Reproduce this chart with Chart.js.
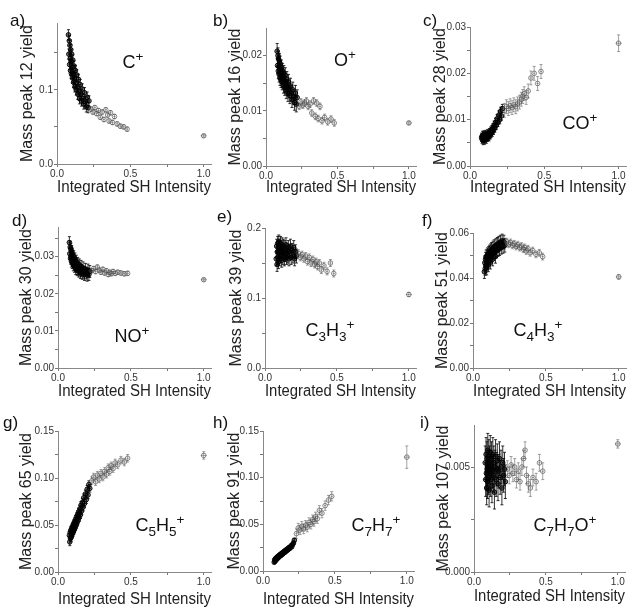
<!DOCTYPE html>
<html>
<head>
<meta charset="utf-8">
<script src="https://cdn.jsdelivr.net/npm/chart.js@4.4.0/dist/chart.umd.min.js"></script>
<style>
  body { margin: 0; background: #fff; }
  #fig { position: relative; width: 631px; height: 608px; overflow: hidden; font-family: "Liberation Sans", Arial, sans-serif; }
  #fig canvas { position: absolute; }
  .tag { position: absolute; font-size: 17px; color: #111; line-height: 1; white-space: nowrap; }
  .ion { position: absolute; font-size: 18px; color: #111; line-height: 1; white-space: nowrap; transform: translate(-50%, -50%); }
  .ion sub { font-size: 0.75em; vertical-align: -0.35em; line-height: 0; }
  .ion sup { font-size: 0.75em; vertical-align: 0.55em; line-height: 0; }
</style>
</head>
<body>
<div id="fig"></div>
<script>
// integrated SH intensity of each shot (shared by all nine panels)
const shgIntensity = [
  0.078, 0.081, 0.084, 0.086, 0.088, 0.090, 0.092, 0.094, 0.096, 0.098,
  0.100, 0.103, 0.105, 0.108, 0.110, 0.113, 0.116, 0.119, 0.122, 0.125,
  0.128, 0.131, 0.135, 0.138, 0.142, 0.146, 0.150, 0.154, 0.158, 0.162,
  0.167, 0.172, 0.177, 0.182, 0.188, 0.194, 0.200, 0.206, 0.212, 0.218,
  0.232, 0.245, 0.258, 0.270, 0.283, 0.295, 0.308, 0.320, 0.333, 0.345,
  0.355, 0.365, 0.378, 0.392, 0.410, 0.432, 0.455, 0.478,
  1.0
];

const peak12 = [
  0.174, 0.148, 0.166, 0.134, 0.160, 0.142, 0.126, 0.154, 0.138, 0.122,
  0.148, 0.130, 0.116, 0.140, 0.122, 0.110, 0.132, 0.116, 0.104, 0.126,
  0.110, 0.100, 0.120, 0.104, 0.094, 0.114, 0.098, 0.088, 0.107, 0.094,
  0.085, 0.101, 0.088, 0.081, 0.096, 0.084, 0.077, 0.090, 0.076, 0.085,
  0.074, 0.070, 0.076, 0.068, 0.072, 0.063, 0.070, 0.060, 0.073, 0.066,
  0.058, 0.069, 0.056, 0.064, 0.054, 0.051, 0.050, 0.047,
  0.038
];
const peak16 = [
  0.0208, 0.0182, 0.0200, 0.0172, 0.0194, 0.0180, 0.0166, 0.0190, 0.0176, 0.0160,
  0.0185, 0.0170, 0.0156, 0.0178, 0.0164, 0.0152, 0.0172, 0.0158, 0.0146, 0.0168,
  0.0154, 0.0142, 0.0164, 0.0148, 0.0136, 0.0157, 0.0143, 0.0131, 0.0152, 0.0138,
  0.0127, 0.0145, 0.0132, 0.0120, 0.0138, 0.0125, 0.0115, 0.0132, 0.0112, 0.0124,
  0.0108, 0.0116, 0.0110, 0.0114, 0.0118, 0.0108, 0.0112, 0.0096, 0.0118, 0.0090,
  0.0114, 0.0086, 0.0108, 0.0082, 0.0088, 0.0080, 0.0085, 0.0078,
  0.0078
];
const peak28 = [
  0.0062, 0.0058, 0.0066, 0.0060, 0.0055, 0.0064, 0.0059, 0.0067, 0.0061, 0.0056,
  0.0065, 0.0060, 0.0068, 0.0062, 0.0058, 0.0066, 0.0062, 0.0070, 0.0064, 0.0068,
  0.0063, 0.0072, 0.0067, 0.0075, 0.0070, 0.0078, 0.0073, 0.0082, 0.0077, 0.0088,
  0.0082, 0.0094, 0.0088, 0.0102, 0.0094, 0.0110, 0.0100, 0.0118, 0.0108, 0.0124,
  0.0120, 0.0128, 0.0124, 0.0130, 0.0126, 0.0132, 0.0128, 0.0134, 0.0138, 0.0144,
  0.0150, 0.0156, 0.0148, 0.0162, 0.0190, 0.0200, 0.0178, 0.0204,
  0.0265
];
const peak30 = [
  0.0338, 0.0308, 0.0326, 0.0296, 0.0320, 0.0302, 0.0288, 0.0314, 0.0296, 0.0284,
  0.0307, 0.0290, 0.0278, 0.0300, 0.0284, 0.0274, 0.0294, 0.0278, 0.0268, 0.0288,
  0.0274, 0.0265, 0.0282, 0.0268, 0.0261, 0.0278, 0.0264, 0.0257, 0.0274, 0.0262,
  0.0255, 0.0270, 0.0258, 0.0252, 0.0266, 0.0256, 0.0250, 0.0264, 0.0252, 0.0260,
  0.0262, 0.0268, 0.0260, 0.0272, 0.0264, 0.0258, 0.0266, 0.0256, 0.0262, 0.0252,
  0.0258, 0.0254, 0.0260, 0.0255, 0.0258, 0.0256, 0.0254, 0.0255,
  0.0238
];
const peak39 = [
  0.156, 0.174, 0.148, 0.166, 0.178, 0.158, 0.172, 0.152, 0.180, 0.164,
  0.174, 0.156, 0.168, 0.178, 0.160, 0.172, 0.154, 0.176, 0.165, 0.158,
  0.174, 0.166, 0.156, 0.172, 0.162, 0.176, 0.158, 0.168, 0.160, 0.172,
  0.156, 0.166, 0.174, 0.158, 0.168, 0.160, 0.172, 0.156, 0.166, 0.160,
  0.164, 0.158, 0.162, 0.156, 0.160, 0.152, 0.158, 0.150, 0.155, 0.148,
  0.152, 0.145, 0.150, 0.140, 0.146, 0.138, 0.150, 0.135,
  0.105
];
const peak51 = [
  0.0428, 0.0468, 0.0442, 0.0484, 0.0455, 0.0494, 0.0468, 0.0444, 0.0498, 0.0472,
  0.0504, 0.0480, 0.0458, 0.0510, 0.0486, 0.0516, 0.0492, 0.0470, 0.0522, 0.0498,
  0.0528, 0.0504, 0.0484, 0.0534, 0.0510, 0.0540, 0.0516, 0.0496, 0.0545, 0.0520,
  0.0550, 0.0526, 0.0555, 0.0530, 0.0560, 0.0536, 0.0565, 0.0540, 0.0560, 0.0545,
  0.0562, 0.0550, 0.0558, 0.0545, 0.0552, 0.0540, 0.0548, 0.0535, 0.0542, 0.0528,
  0.0536, 0.0520, 0.0530, 0.0512, 0.0522, 0.0505, 0.0512, 0.0495,
  0.0405
];
const peak65 = [
  0.039, 0.032, 0.042, 0.036, 0.044, 0.037, 0.045, 0.039, 0.047, 0.041,
  0.048, 0.042, 0.050, 0.044, 0.052, 0.046, 0.054, 0.048, 0.056, 0.050,
  0.059, 0.053, 0.061, 0.055, 0.064, 0.058, 0.067, 0.061, 0.071, 0.065,
  0.074, 0.069, 0.079, 0.073, 0.083, 0.077, 0.088, 0.082, 0.093, 0.089,
  0.097, 0.101, 0.096, 0.103, 0.099, 0.105, 0.101, 0.107, 0.104, 0.111,
  0.107, 0.113, 0.110, 0.116, 0.114, 0.119, 0.117, 0.121,
  0.124
];
const peak91 = [
  0.0095, 0.0120, 0.0105, 0.0130, 0.0115, 0.0135, 0.0122, 0.0142, 0.0128, 0.0148,
  0.0135, 0.0155, 0.0142, 0.0160, 0.0150, 0.0168, 0.0158, 0.0175, 0.0165, 0.0182,
  0.0172, 0.0190, 0.0180, 0.0198, 0.0190, 0.0208, 0.0198, 0.0218, 0.0208, 0.0228,
  0.0220, 0.0240, 0.0232, 0.0252, 0.0245, 0.0268, 0.0260, 0.0285, 0.0300, 0.0330,
  0.0400, 0.0460, 0.0440, 0.0480, 0.0450, 0.0490, 0.0470, 0.0520, 0.0500, 0.0550,
  0.0530, 0.0580, 0.0560, 0.0650, 0.0620, 0.0700, 0.0760, 0.0800,
  0.122
];
const peak107 = [
  0.0052, 0.0044, 0.0056, 0.0047, 0.0040, 0.0054, 0.0049, 0.0043, 0.0058, 0.0050,
  0.0045, 0.0055, 0.0039, 0.0052, 0.0047, 0.0057, 0.0044, 0.0050, 0.0054, 0.0041,
  0.0048, 0.0056, 0.0046, 0.0052, 0.0038, 0.0050, 0.0055, 0.0044, 0.0049, 0.0053,
  0.0042, 0.0048, 0.0054, 0.0045, 0.0050, 0.0040, 0.0052, 0.0046, 0.0049, 0.0043,
  0.0049, 0.0046, 0.0051, 0.0047, 0.0050, 0.0044, 0.0048, 0.0043, 0.0050, 0.0054,
  0.0058, 0.0046, 0.0042, 0.0040, 0.0045, 0.0043, 0.0052, 0.0048,
  0.0061
];

// error bars: [dense cluster, tail, point at 1.0]
const err12 = [0.007, 0.003, 0.002];
const err16 = [0.0014, 0.0006, 0.0003];
const err28 = [0.0009, 0.0015, 0.0018];
const err30 = [0.0016, 0.0006, 0.0004];
const err39 = [0.010, 0.005, 0.003];
const err51 = [0.003, 0.0015, 0.001];
const err65 = [0.004, 0.004, 0.004];
const err91 = [0.002, 0.005, 0.012];
const err107 = [0.0008, 0.0004, 0.0002];
const xErr = [0.007, 0.008, 0.02];

const masses = [12, 16, 28, 30, 39, 51, 65, 91, 107];
const ions = ['C<sup>+</sup>', 'O<sup>+</sup>', 'CO<sup>+</sup>', 'NO<sup>+</sup>',
  'C<sub>3</sub>H<sub>3</sub><sup>+</sup>', 'C<sub>4</sub>H<sub>3</sub><sup>+</sup>',
  'C<sub>5</sub>H<sub>5</sub><sup>+</sup>', 'C<sub>7</sub>H<sub>7</sub><sup>+</sup>',
  'C<sub>7</sub>H<sub>7</sub>O<sup>+</sup>'];
const tags = ['a)', 'b)', 'c)', 'd)', 'e)', 'f)', 'g)', 'h)', 'i)'];

const xMax = 1.05;
const xTicks = [0, 0.25, 0.5, 0.75, 1.0];
const xTickLabels = ['0.0', '', '0.5', '', '1.0'];

const yMax = [0.19, 0.025, 0.03, 0.038, 0.2, 0.06, 0.15, 0.15, 0.007];
const yTicks = [
  [0, 0.05, 0.1, 0.15],
  [0, 0.005, 0.01, 0.015, 0.02],
  [0, 0.005, 0.01, 0.015, 0.02, 0.025, 0.03],
  [0, 0.005, 0.01, 0.015, 0.02, 0.025, 0.03, 0.035],
  [0, 0.05, 0.1, 0.15, 0.2],
  [0, 0.01, 0.02, 0.03, 0.04, 0.05, 0.06],
  [0, 0.025, 0.05, 0.075, 0.1, 0.125, 0.15],
  [0, 0.025, 0.05, 0.075, 0.1, 0.125, 0.15],
  [0, 0.0025, 0.005]
];
const yTickLabels = [
  ['0.0', '', '0.1', ''],
  ['0.00', '', '0.01', '', '0.02'],
  ['0.00', '', '0.01', '', '0.02', '', '0.03'],
  ['0.00', '', '0.01', '', '0.02', '', '0.03', ''],
  ['0.0', '', '0.1', '', '0.2'],
  ['0.00', '', '0.02', '', '0.04', '', '0.06'],
  ['0.00', '', '0.05', '', '0.10', '', '0.15'],
  ['0.00', '', '0.05', '', '0.10', '', '0.15'],
  ['0.000', '', '0.005']
];

const yields = [peak12, peak16, peak28, peak30, peak39, peak51, peak65, peak91, peak107];
const yErrs = [err12, err16, err28, err30, err39, err51, err65, err91, err107];

// page layout: canvas box, plot area, y-title x, x-title y, tag pos, ion label centre
const panels = [
  { box: [0, 0, 216, 200],     area: [57, 23, 212, 164],  yt: 28,  xt: 188, tag: [10, 12],   ion: [133, 62] },
  { box: [216, 0, 421, 200],   area: [266, 28, 419, 166], yt: 236, xt: 188, tag: [213, 12],  ion: [345, 60] },
  { box: [421, 0, 631, 200],   area: [470, 27, 628, 166], yt: 441, xt: 188, tag: [423, 12],  ion: [580, 123] },
  { box: [0, 200, 216, 404],   area: [58, 227, 214, 368], yt: 27,  xt: 392, tag: [12, 212],  ion: [132, 336] },
  { box: [216, 200, 421, 404], area: [265, 228, 417, 368], yt: 237, xt: 392, tag: [217, 208], ion: [330, 330] },
  { box: [421, 200, 631, 404], area: [473, 233, 629, 368], yt: 443, xt: 392, tag: [422, 212], ion: [538, 330] },
  { box: [0, 404, 216, 608],   area: [58, 431, 214, 572], yt: 27,  xt: 600, tag: [3, 414],   ion: [160, 525] },
  { box: [216, 404, 421, 608], area: [263, 431, 414, 571], yt: 235, xt: 600, tag: [213, 414], ion: [376, 525] },
  { box: [421, 404, 631, 608], area: [474, 425, 625, 572], yt: 444, xt: 597, tag: [420, 414], ion: [565, 525] }
];

const FONT = '"Liberation Sans", Arial, sans-serif';
const fig = document.getElementById('fig');

function group(x) {
  if (x < 0.225) return 0;
  if (x < 0.9) return 1;
  return 2;
}

const errorBars = {
  id: 'errorBars',
  beforeDatasetsDraw(chart) {
    const { ctx, scales: { x, y } } = chart;
    chart.data.datasets.forEach(ds => {
      ctx.save();
      ds.data.forEach(p => {
        const g = group(p.x);
        const e = ds.yErr[g], xe = xErr[g];
        const px = x.getPixelForValue(p.x), py = y.getPixelForValue(p.y);
        const t = y.getPixelForValue(p.y + e), b = y.getPixelForValue(p.y - e);
        const l = x.getPixelForValue(p.x - xe), r = x.getPixelForValue(p.x + xe);
        ctx.strokeStyle = g === 0 ? 'rgba(0,0,0,0.9)' : 'rgba(90,90,90,0.8)';
        ctx.lineWidth = g === 0 ? 0.9 : 0.7;
        ctx.beginPath();
        ctx.moveTo(px, t); ctx.lineTo(px, b);
        ctx.moveTo(px - 1.5, t); ctx.lineTo(px + 1.5, t);
        ctx.moveTo(px - 1.5, b); ctx.lineTo(px + 1.5, b);
        ctx.moveTo(l, py); ctx.lineTo(r, py);
        ctx.stroke();
      });
      ctx.restore();
    });
  }
};

function makePanel(i) {
  const p = panels[i];
  const [bx0, by0, bx1, by1] = p.box;
  const [al, at, ar, ab] = p.area;
  const w = bx1 - bx0, h = by1 - by0;

  const cv = document.createElement('canvas');
  cv.width = w; cv.height = h;
  cv.style.left = bx0 + 'px'; cv.style.top = by0 + 'px';
  cv.style.width = w + 'px'; cv.style.height = h + 'px';
  fig.appendChild(cv);

  const tag = document.createElement('div');
  tag.className = 'tag';
  tag.style.left = p.tag[0] + 'px'; tag.style.top = p.tag[1] + 'px';
  tag.textContent = tags[i];
  fig.appendChild(tag);

  const ion = document.createElement('div');
  ion.className = 'ion';
  ion.style.left = p.ion[0] + 'px'; ion.style.top = p.ion[1] + 'px';
  ion.innerHTML = ions[i];
  fig.appendChild(ion);

  const ys = yields[i];
  const pts = shgIntensity.map((x, k) => ({ x: x, y: ys[k] }));

  new Chart(cv, {
    type: 'scatter',
    data: {
      datasets: [{
        data: pts,
        yErr: yErrs[i],
        pointStyle: 'circle',
        pointRadius: 2.3,
        pointBorderWidth: c => group(c.raw.x) === 0 ? 1 : 0.8,
        pointBackgroundColor: c => group(c.raw.x) === 0 ? 'rgba(0,0,0,0.45)' : 'rgba(0,0,0,0)',
        pointBorderColor: c => group(c.raw.x) === 0 ? 'rgba(0,0,0,0.95)' : 'rgba(80,80,80,0.85)'
      }]
    },
    options: {
      responsive: false,
      animation: false,
      events: [],
      layout: { padding: { left: 0, top: at - by0, right: bx1 - ar, bottom: 0 } },
      plugins: { legend: { display: false }, tooltip: { enabled: false } },
      scales: {
        x: {
          type: 'linear', min: 0, max: xMax,
          afterFit: s => { s.height = by1 - ab; },
          afterBuildTicks: s => { s.ticks = xTicks.map(v => ({ value: v })); },
          grid: { drawOnChartArea: false, drawTicks: true, tickLength: 3, color: '#777' },
          border: { display: true, color: '#888', width: 1 },
          ticks: {
            autoSkip: false, maxRotation: 0, padding: 1, color: '#333',
            font: { size: 10, family: FONT },
            callback: (v, k) => xTickLabels[k]
          },
          title: {
            display: true, text: 'Integrated SH Intensity', color: '#222',
            font: { size: 16, family: FONT, lineHeight: 1 },
            padding: { top: 0, bottom: by1 - p.xt - 8 }
          }
        },
        y: {
          type: 'linear', min: 0, max: yMax[i],
          afterFit: s => { s.width = al - bx0; },
          afterBuildTicks: s => { s.ticks = yTicks[i].map(v => ({ value: v })); },
          grid: { drawOnChartArea: false, drawTicks: true, tickLength: 3, color: '#777' },
          border: { display: true, color: '#888', width: 1 },
          ticks: {
            autoSkip: false, padding: 1, color: '#333',
            font: { size: 10, family: FONT },
            callback: (v, k) => yTickLabels[i][k]
          },
          title: {
            display: true, text: 'Mass peak ' + masses[i] + ' yield', color: '#222',
            font: { size: 16, family: FONT, lineHeight: 1 },
            padding: { top: p.yt - bx0 - 8, bottom: 0 }
          }
        }
      }
    },
    plugins: [errorBars]
  });
}

for (let i = 0; i < panels.length; i++) makePanel(i);
</script>
</body>
</html>
